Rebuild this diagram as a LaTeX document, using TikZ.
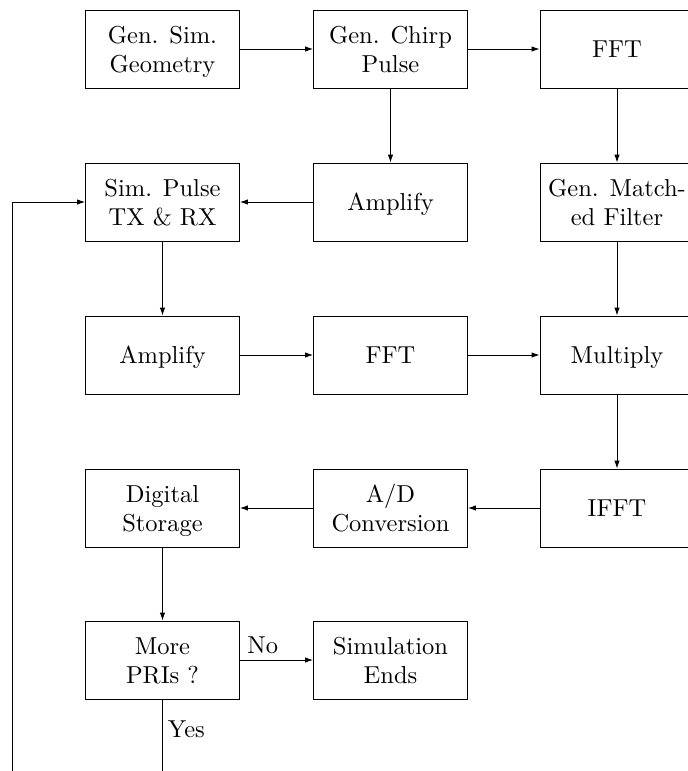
\documentclass[tikz,border=0pt]{standalone}
\usepackage{graphicx}
\usetikzlibrary{arrows.meta}
\newcommand\lt[1]{\scalebox{2.45}{\begin{tabular}{@{}c@{}}#1\end{tabular}}}
\newcommand\bt[1]{\raisebox{-3pt}[\height][\depth]{\lt{#1}}}
\begin{document}
\begin{tikzpicture}[x=1pt,y=-1pt,
  blk/.style={draw, line width=0.9pt, minimum width=154pt, minimum height=78pt,
    inner sep=0pt, align=center},
  lbl/.style={inner sep=0pt},
  conn/.style={line width=0.9pt, -{Latex[length=8pt,width=5.5pt]}}]
\useasboundingbox (0,0) rectangle (688,771);
\clip (0,0) rectangle (688,771);
\node[blk] (geo)   at (162.5,49)  {\bt{Gen. Sim.\\Geometry}};
\node[blk] (chirp) at (390.5,49)  {\bt{Gen. Chirp\\Pulse}};
\node[blk] (fft1)  at (617,49)    {\bt{FFT}};
\node[blk] (sim)   at (162.5,202) {\bt{Sim. Pulse\\TX \& RX}};
\node[blk] (amp1)  at (390.5,202) {\bt{Amplify}};
\node[blk] (match) at (617,202)   {\bt{Gen. Match-\\ed Filter}};
\node[blk] (amp2)  at (162.5,355) {\bt{Amplify}};
\node[blk] (fft2)  at (390.5,355) {\bt{FFT}};
\node[blk] (mult)  at (617,355)   {\bt{Multiply}};
\node[blk] (dig)   at (162.5,508) {\bt{Digital\\Storage}};
\node[blk] (ad)    at (390.5,508) {\bt{A/D\\Conversion}};
\node[blk] (ifft)  at (617,508)   {\bt{IFFT}};
\node[blk] (more)  at (162.5,660) {\bt{More\\PRIs ?}};
\node[blk] (ends)  at (390.5,660) {\bt{Simulation\\Ends}};
\coordinate (yesend) at (162.5,790);
\coordinate (loopend) at (12,790);

\draw[conn] (geo) -- (chirp);
\draw[conn] (chirp) -- (fft1);
\draw[conn] (chirp) -- (amp1);
\draw[conn] (fft1) -- (match);
\draw[conn] (amp1) -- (sim);
\draw[conn] (sim) -- (amp2);
\draw[conn] (amp2) -- (fft2);
\draw[conn] (fft2) -- (mult);
\draw[conn] (match) -- (mult);
\draw[conn] (mult) -- (ifft);
\draw[conn] (ifft) -- (ad);
\draw[conn] (ad) -- (dig);
\draw[conn] (dig) -- (more);
\draw[conn] (more) -- node[lbl, pos=0, anchor=south west, xshift=7pt, yshift=-3pt] (no) {\lt{No}} (ends);
\draw[conn] (more.south) -- node[lbl, pos=0.35, anchor=west, xshift=5pt] (yes) {\lt{Yes}} (yesend) -- (loopend) |- (sim.west);
\end{tikzpicture}
\end{document}
